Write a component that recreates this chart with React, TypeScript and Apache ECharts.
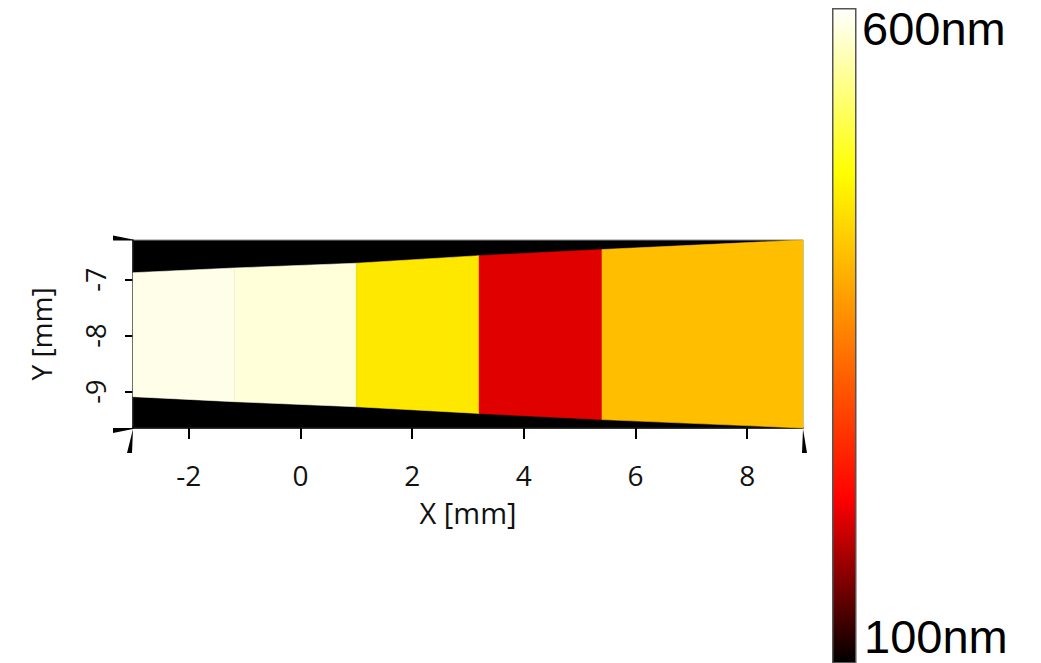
import React, { useEffect, useRef } from "react";
import * as echarts from "echarts";

// ---- data ----
const xEdges = [-3, -1.18, 1.0, 3.2, 5.4, 9];
const topEdges = [-6.875, -6.79, -6.705, -6.57, -6.46, -6.29];
const bottomEdges = [-9.09, -9.18, -9.27, -9.39, -9.5, -9.65];
const thicknessNm = [589, 582, 452, 210, 412];
const xTicks = [-2, 0, 2, 4, 6, 8];
const yTicks = [-9, -8, -7];
const xRange = [-3, 9];
const yRange = [-9.65, -6.29];
const cbarRange = [100, 600];
const cbarLabels = ["600nm", "100nm"];
const hotColors = ["#000000", "#ff0000", "#ff8000", "#ffff00", "#ffffff"];

const cornerMarks = [
  [xRange[0], yRange[1], 0],
  [xRange[0], yRange[0], 1],
  [xRange[0], yRange[0], 2],
  [xRange[1], yRange[0], 3],
];

export default function App() {
  const ref = useRef<HTMLDivElement>(null);
  useEffect(() => {
    if (!ref.current) return;
    const chart = echarts.init(ref.current, null, { renderer: "svg" });
    const segData = thicknessNm.map((v, i) => [
      xEdges[i],
      xEdges[i + 1],
      topEdges[i],
      topEdges[i + 1],
      bottomEdges[i],
      bottomEdges[i + 1],
      v,
    ]);
    const tickFont = "'Open Sans', 'DejaVu Sans', sans-serif";
    const wedgeShapes: number[][][] = [
      [[-20, -4.5], [0, -0.5], [0, 0.5], [-20, 0.5]],
      [[-20, 0], [0, 0], [0, 1], [-20, 5]],
      [[0, 1], [-1, 25], [-6, 25]],
      [[0, 1], [4, 25], [-1, 25]],
    ];
    chart.setOption({
      animation: false,
      backgroundColor: "#ffffff",
      grid: {
        left: 133,
        right: 238,
        top: 240,
        bottom: 235,
        show: true,
        backgroundColor: "#000000",
        borderColor: "#8a8a8a",
        borderWidth: 1,
      },
      xAxis: {
        type: "value",
        min: xRange[0],
        max: xRange[1],
        name: "X [mm]",
        nameLocation: "middle",
        nameGap: 70,
        nameTextStyle: { fontFamily: tickFont, fontSize: 29, color: "#111" },
        axisLine: { show: true, onZero: false, lineStyle: { color: "#000", width: 1.5 } },
        axisTick: {
          show: true,
          length: 11,
          customValues: xTicks,
          lineStyle: { color: "#000", width: 2 },
        },
        axisLabel: {
          customValues: xTicks,
          margin: 33,
          fontFamily: tickFont,
          fontSize: 28,
          color: "#111",
        },
        splitLine: { show: false },
      },
      yAxis: {
        type: "value",
        min: yRange[0],
        max: yRange[1],
        name: "Y [mm]",
        nameLocation: "middle",
        nameGap: 78,
        nameRotate: 90,
        nameTextStyle: { fontFamily: tickFont, fontSize: 28, color: "#111" },
        axisLine: { show: true, onZero: false, lineStyle: { color: "#000", width: 1.5 } },
        axisTick: {
          show: true,
          length: 8,
          customValues: yTicks,
          lineStyle: { color: "#000", width: 2 },
        },
        axisLabel: {
          customValues: yTicks,
          rotate: 90,
          margin: 24,
          fontFamily: tickFont,
          fontSize: 27,
          color: "#111",
        },
        splitLine: { show: false },
      },
      visualMap: {
        show: false,
        type: "continuous",
        min: cbarRange[0],
        max: cbarRange[1],
        dimension: 6,
        seriesIndex: 0,
        inRange: { color: hotColors },
      },
      series: [
        {
          type: "custom",
          data: segData,
          encode: { x: [0, 1], y: [2, 3, 4, 5] },
          renderItem: (params: any, api: any) => {
            const pts = [
              api.coord([api.value(0), api.value(2)]),
              api.coord([api.value(1), api.value(3)]),
              api.coord([api.value(1), api.value(5)]),
              api.coord([api.value(0), api.value(4)]),
            ];
            const c = api.visual("color");
            return {
              type: "polygon",
              shape: { points: pts },
              style: { fill: c, stroke: c, lineWidth: 0.6 },
            };
          },
        },
        {
          type: "custom",
          data: cornerMarks,
          encode: { x: 0, y: 1 },
          clip: false,
          z: 5,
          renderItem: (params: any, api: any) => {
            const p = api.coord([api.value(0), api.value(1)]);
            const shape = wedgeShapes[api.value(2)];
            return {
              type: "polygon",
              shape: { points: shape.map((s) => [p[0] + s[0], p[1] + s[1]]) },
              style: { fill: "#000" },
            };
          },
        },
      ],
      graphic: [
        {
          type: "rect",
          left: 832,
          top: 8,
          shape: { width: 23, height: 654 },
          style: {
            fill: new echarts.graphic.LinearGradient(0, 1, 0, 0, hotColors.map((c, i) => ({
              offset: i / (hotColors.length - 1),
              color: c,
            }))),
            stroke: "#555",
            lineWidth: 1.5,
          },
        },
        {
          type: "text",
          left: 862,
          top: 5,
          style: {
            text: cbarLabels[0],
            font: "47px 'Liberation Sans', Arial, sans-serif",
            fill: "#000",
          },
        },
        {
          type: "text",
          left: 864,
          top: 613,
          style: {
            text: cbarLabels[1],
            font: "47px 'Liberation Sans', Arial, sans-serif",
            fill: "#000",
          },
        },
      ],
    });
    return () => chart.dispose();
  }, []);
  return <div ref={ref} style={{ width: 1041, height: 663, position: "absolute", left: 0, top: 0 }} />;
}
